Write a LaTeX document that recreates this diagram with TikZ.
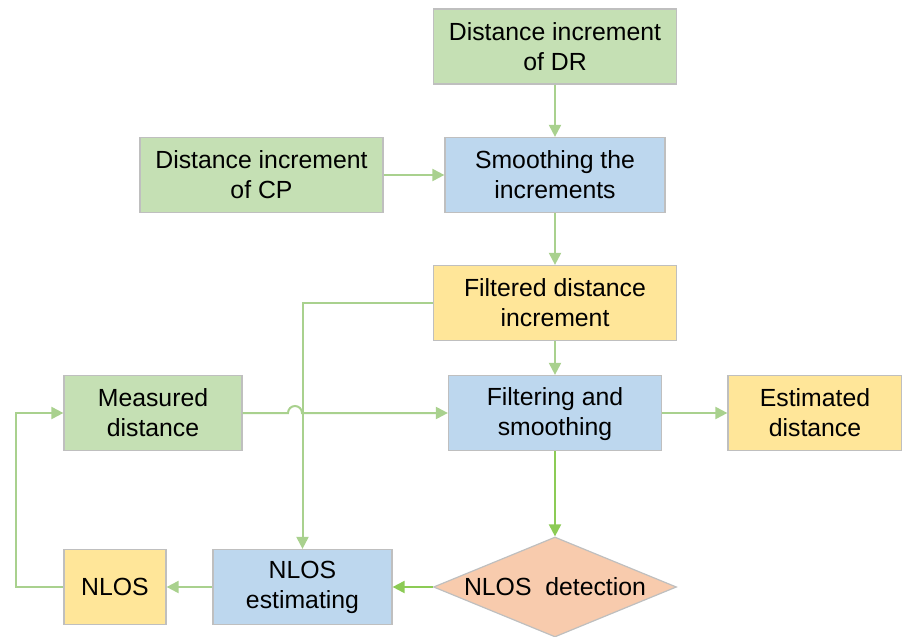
\documentclass[tikz,border=0pt]{standalone}
\usepackage{fontspec}
\setmainfont{Liberation Sans}
\usepackage{tikz}
\usetikzlibrary{arrows.meta,positioning,shapes.geometric}

\definecolor{boxgreen}{HTML}{C5E0B4}
\definecolor{boxblue}{HTML}{BDD7EE}
\definecolor{boxyellow}{HTML}{FFE699}
\definecolor{boxorange}{HTML}{F8CBAD}
\definecolor{boxline}{HTML}{BFBFBF}
\definecolor{flow}{HTML}{A9D18E}
\definecolor{flowdark}{HTML}{8CCB55}

\begin{document}
\begin{tikzpicture}[
                    x=0.5pt, y=-0.5pt,
                    >={Triangle[length=6pt,width=6pt]},
                    every node/.append style={font=\fontsize{12.4}{15}\selectfont, align=center},
                    blk/.style={draw=boxline, line width=0.6pt, inner sep=0pt,
                                minimum width=#1*0.5pt, minimum height=37.5pt},
                    input/.style={blk=#1, fill=boxgreen},
                    proc/.style={blk=#1, fill=boxblue},
                    outp/.style={blk=#1, fill=boxyellow},
                    decide/.style={diamond, draw=boxline, line width=0.6pt, fill=boxorange,
                                   inner sep=0pt, minimum width=121.5pt, minimum height=50pt},
                    link/.style={->, draw=flow, line width=1pt},
                    linkd/.style={->, draw=flowdark, line width=1pt}
                    ]
\useasboundingbox (0,0) rectangle (902,637);

% inputs and smoothing
\node[input=243] (dr)   at (555,46.5) {Distance increment\\of DR};
\node[input=243] (cp)   at (261.5,175) {Distance increment\\of CP};
\node[proc=220]  (smth) at (555,175)   {Smoothing the\\increments};
\node[outp=243]  (filt) at (555,303)   {Filtered distance\\increment};

% main filter row
\node[input=178] (meas) at (153,413)   {Measured\\distance};
\node[proc=213]  (fsm)  at (555,413)   {\strut Filtering and\\smoothing};
\node[outp=174]  (est)  at (815,413)   {Estimated\\distance};

% NLOS loop
\node[decide]    (det)  at (555,587)   {\makebox[0pt]{NLOS\ \ detection}};
\node[proc=179]  (nest) at (302.5,587) {NLOS\\estimating};
\node[outp=102]  (nlos) at (115,587)   {NLOS};

\coordinate (hop) at (302,413);
\coordinate (back) at (16,0);

\draw[link] (dr) -- (smth);
\draw[link] (cp) -- (smth);
\draw[link] (smth) -- (filt);
\draw[link] (filt) -- (fsm);
\draw[link] (filt.west) -| (nest.north);
\draw[link] (meas.east) -- ([xshift=-7]hop) arc (180:0:3.5pt) -- (fsm.west);
\draw[link] (fsm) -- (est);
\draw[linkd] (fsm) -- (det);
\draw[linkd] (det) -- (nest);
\draw[link] (nest) -- (nlos);
\draw[link] (nlos.west) -- (nlos.west -| back) |- (meas.west);
\end{tikzpicture}
\end{document}
